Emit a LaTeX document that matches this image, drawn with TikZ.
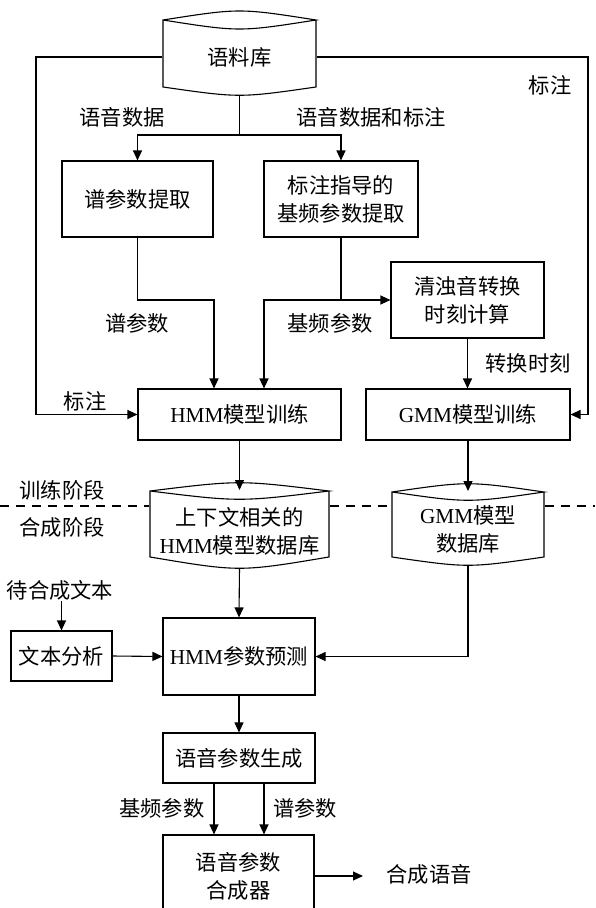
\documentclass[tikz,border=0pt]{standalone}
\usepackage{fontspec}
\setmainfont{Liberation Serif}
\newfontfamily\cjk{Noto Sans CJK SC}
\usetikzlibrary{arrows.meta,calc}
\newcommand\lat[1]{{\rmfamily #1}}
\begin{document}
\begin{tikzpicture}[x=1pt,y=-1pt,line width=1.1pt,
  every node/.style={font=\cjk\fontsize{21.3}{28}\selectfont, inner sep=0pt, align=center},
  box/.style={draw, rectangle},
  arr/.style={-{Triangle[length=10pt,width=9pt]}},
  phase/.style={dash pattern=on 9pt off 7pt}]
\useasboundingbox (0,0) rectangle (595,908);
\clip (0,0) rectangle (595,908);

% boxes
\node[box, minimum width=151pt, minimum height=76pt] (spec) at (137.5,199) {谱参数提取};
\node[box, minimum width=154pt, minimum height=76pt] (f0) at (341,199) {标注指导的\\基频参数提取};
\node[box, minimum width=153pt, minimum height=76pt] (uv) at (467.5,300) {清浊音转换\\时刻计算};
\node[box, minimum width=203pt, minimum height=51pt] (hmmtrain) at (239.5,414.5) {\lat{HMM}模型训练};
\node[box, minimum width=204pt, minimum height=51pt] (gmmtrain) at (468,414.5) {\lat{GMM}模型训练};
\node[box, minimum width=101pt, minimum height=50pt] (textana) at (61.5,656) {文本分析};
\node[box, minimum width=152pt, minimum height=77pt] (hmmpred) at (239,656.5) {\lat{HMM}参数预测};
\node[box, minimum width=152pt, minimum height=50pt] (gen) at (239,758) {语音参数生成};
\node[box, minimum width=151pt, minimum height=82pt] (synth) at (238.5,876) {语音参数\\合成器};

% cylinders (text nodes + shapes)
\node[minimum width=153pt] (db0) at (239.5,57) {语料库};
\node[minimum width=179pt] (db1) at (239.5,531) {上下文相关的\\\lat{HMM}模型数据库};
\node[minimum width=152pt] (db2) at (468,529) {\lat{GMM}模型\\数据库};
\draw (163,20) .. controls (239.5,8) .. (316,20) .. controls (239.5,32) .. (163,20) -- (163,87) .. controls (239.5,98) .. (316,87) -- (316,20);
\draw (150,491) .. controls (239.5,480) .. (329,491) .. controls (239.5,502) .. (150,491) -- (150,557) .. controls (239.5,572) .. (329,557) -- (329,491);
\draw (392,492) .. controls (468,481) .. (544,492) .. controls (468,503) .. (392,492) -- (392,557) .. controls (468,568) .. (544,557) -- (544,492);

% labels
\node (l1) at (122,117) {语音数据};
\node[anchor=west] (l2) at (296,117) {语音数据和标注};
\node (l3) at (550,85) {标注};
\node (l4) at (85,401) {标注};
\node (l5) at (137,323) {谱参数};
\node (l6) at (330,323) {基频参数};
\node (l7) at (528,363) {转换时刻};
\node (l8) at (62,490) {训练阶段};
\node (l9) at (62,527) {合成阶段};
\node[anchor=east] (l10) at (205,808) {基频参数};
\node (l11) at (305,808) {谱参数};
\node (txtin) at (60,590) {待合成文本};
\node[anchor=west] (outlbl) at (386,874) {合成语音};

% coordinates
\coordinate (db0bot) at (239.5,95);
\coordinate (split) at (239.5,135);
\coordinate (db1top) at (239.5,490);
\coordinate (db1bot) at (239.5,568);
\coordinate (db2top) at (468,491);
\coordinate (db2bot) at (468,565);
\coordinate (lc) at (36,0);
\coordinate (rc) at (588,0);
\coordinate (j1) at (214,300);
\coordinate (j2) at (341,300);
\coordinate (j3) at (264,300);
\coordinate (k1) at (214,0);
\coordinate (k2) at (264,0);
\coordinate (out) at (363,876);
\coordinate (dl) at (0,506);
\coordinate (dr) at (595,506);

% connectors
\draw[arr] (db0.west) -| (lc |- hmmtrain.west) -- (hmmtrain.west);
\draw[arr] (db0.east) -| (rc |- gmmtrain.east) -- (gmmtrain.east);
\draw (db0bot) -- (split);
\draw[arr] (split) -| (spec.north);
\draw[arr] (split) -| (f0.north);
\draw[arr] (spec.south) |- (j1) -- (j1 |- hmmtrain.north);
\draw (f0.south) -- (j2);
\draw[arr] (j2) -- (uv.west);
\draw[arr] (j2) -- (j3) -- (j3 |- hmmtrain.north);
\draw[arr] (uv.south) -- (uv.south |- gmmtrain.north);
\draw[arr] (hmmtrain.south) -- (db1top);
\draw[arr] (gmmtrain.south) -- (db2top);
\draw[arr] (db1bot) -- (hmmpred.north);
\draw[arr] (db2bot) |- (hmmpred.east);
\draw[arr] (textana.north |- txtin.south) -- (textana.north);
\draw[arr] (textana.east) -- (hmmpred.west);
\draw[arr] (hmmpred.south) -- (gen.north);
\draw[arr] (k1 |- gen.south) -- (k1 |- synth.north);
\draw[arr] (k2 |- gen.south) -- (k2 |- synth.north);
\draw[arr] (synth.east) -- (out);

% phase separator
\draw[phase] (dl) -- (dl -| db1.west);
\draw[phase] (dl -| db1.east) -- (dl -| db2.west);
\draw[phase] (dl -| db2.east) -- (dr);
\end{tikzpicture}
\end{document}
